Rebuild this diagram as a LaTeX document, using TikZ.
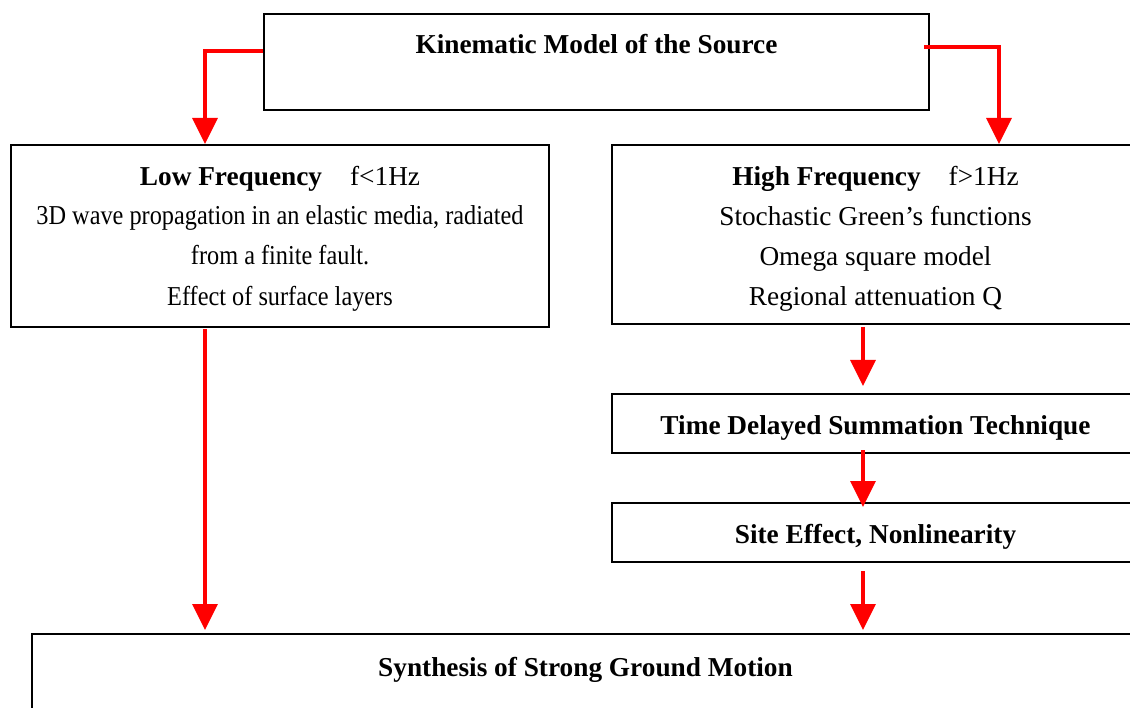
\documentclass[tikz,border=0pt]{standalone}
\usepackage{fontspec}
\setmainfont{Liberation Serif}
\newfontfamily\condserif[FakeStretch=0.89]{Liberation Serif}
\usetikzlibrary{arrows.meta,calc}

\begin{document}
\begin{tikzpicture}[x=1pt,y=1pt,
  box/.style={draw=black, line width=2pt, rectangle, inner sep=0pt, anchor=north west},
  flow/.style={draw=red, line width=3.5pt, -{Triangle[length=26pt,width=25pt]}},
  txt/.style={inner sep=0pt, anchor=base, font=\fontsize{27.3}{40}\selectfont},
]
\clip (0,0) rectangle (1130,-708);

% boxes
\node[box, minimum width=665, minimum height=96]  (src)   at (263,-13)  {};
\node[box, minimum width=538, minimum height=182] (low)   at (10,-144)  {};
\node[box, minimum width=527, minimum height=179] (high)  at (611,-144) {};
\node[box, minimum width=527, minimum height=59]  (tds)   at (611,-393) {};
\node[box, minimum width=527, minimum height=59]  (site)  at (611,-502) {};
\node[box, minimum width=1107, minimum height=120] (synth) at (31,-633) {};

% box texts
\node[txt] (srcT) at ($(src.north)+(0,-41)$) {\bfseries Kinematic Model of the Source};

\node[txt] (lowA) at ($(low.north)+(0,-42)$)  {\textbf{Low Frequency}\hspace{28pt}f<1Hz};
\node[txt] (lowB) at ($(low.north)+(0,-81)$)  {\condserif 3D wave propagation in an elastic media, radiated};
\node[txt] (lowC) at ($(low.north)+(0,-121)$) {\condserif from a finite fault.};
\node[txt] (lowD) at ($(low.north)+(0,-162)$) {\condserif Effect of surface layers};

\node[txt] (highA) at ($(high.north)+(0,-42)$)  {\textbf{High Frequency}\hspace{28pt}f>1Hz};
\node[txt] (highB) at ($(high.north)+(0,-82)$)  {Stochastic Green’s functions};
\node[txt] (highC) at ($(high.north)+(0,-122)$) {Omega square model};
\node[txt] (highD) at ($(high.north)+(0,-162)$) {Regional attenuation Q};

\node[txt] (tdsT)   at ($(tds.north)+(0,-42)$)   {\bfseries Time Delayed Summation Technique};
\node[txt] (siteT)  at ($(site.north)+(0,-41)$)  {\bfseries Site Effect, Nonlinearity};
\node[txt] (synthT) at ($(synth.north)+(0,-43)$) {\bfseries Synthesis of Strong Ground Motion};

% columns of the connectors
\coordinate (lcol) at (205,0);
\coordinate (rcol) at (999,0);
\coordinate (mcol) at (863,0);

% connectors
\draw[flow] ([yshift=11]src.west) -| (lcol |- low.north);
\draw[flow] ([xshift=-6,yshift=15]src.east) -| (rcol |- high.north);
\draw[flow] ([yshift=-1]lcol |- low.south) -- ([yshift=3]lcol |- synth.north);
\draw[flow] ([yshift=-2]mcol |- high.south) -- ([yshift=7]mcol |- tds.north);
\draw[flow] ([yshift=4]mcol |- tds.south) -- ([yshift=-5]mcol |- site.north);
\draw[flow] ([yshift=-8]mcol |- site.south) -- ([yshift=3]mcol |- synth.north);
\end{tikzpicture}
\end{document}
